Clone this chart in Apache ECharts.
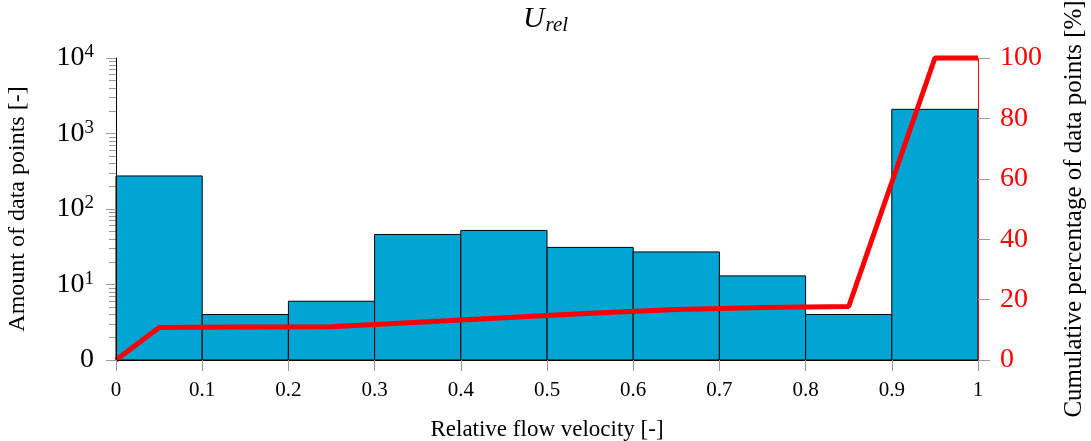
<!DOCTYPE html>
<html>
<head>
<meta charset="utf-8">
<script src="https://cdn.jsdelivr.net/npm/echarts@6/dist/echarts.min.js"></script>
<style>html,body{margin:0;padding:0;background:#fff}#c{width:1091px;height:441px}</style>
</head>
<body>
<div id="c"></div>
<script>
// Histogram bins (left edges / right edges) and counts
const binStart = [0, 0.1, 0.2, 0.3, 0.4, 0.5, 0.6, 0.7, 0.8, 0.9];
const binEnd   = [0.1, 0.2, 0.3, 0.4, 0.5, 0.6, 0.7, 0.8, 0.9, 1.0];
const counts   = [274, 4, 6, 46, 52, 31, 27, 13, 4, 2090];
// Cumulative percentage line
const cumX = [0, 0.05, 0.15, 0.25, 0.35, 0.45, 0.55, 0.65, 0.75, 0.85, 0.95, 1.0];
const cumY = [0, 10.8, 10.9, 11.0, 12.5, 14.0, 15.5, 16.7, 17.4, 17.7, 100, 100];
// Tick labels / positions
const xTickLabels = ['0', '0.1', '0.2', '0.3', '0.4', '0.5', '0.6', '0.7', '0.8', '0.9', '1'];
const logMajor = [1, 10, 100, 1000, 10000];
const logMinor = [2,3,4,5,6,7,8,9,20,30,40,50,60,70,80,90,200,300,400,500,600,700,800,900,2000,3000,4000,5000,6000,7000,8000,9000];
const rightTicks = [0, 20, 40, 60, 80, 100];

const SERIF = '"Liberation Serif", "DejaVu Serif", serif';
const TICKGRAY = '#9a9a9a';

const chart = echarts.init(document.getElementById('c'));
const barData = binStart.map((s, i) => [s, binEnd[i], counts[i]]);
const lineData = cumX.map((x, i) => [x, cumY[i]]);

chart.setOption({
  animation: false,
  backgroundColor: '#fff',
  title: {
    text: '{u|U}{s|rel}',
    left: 'center',
    top: -2,
    textStyle: {
      fontWeight: 'normal',
      rich: {
        u: { fontFamily: SERIF, fontStyle: 'italic', fontWeight: 'normal', fontSize: 30, color: '#000', lineHeight: 32 },
        s: { fontFamily: SERIF, fontStyle: 'italic', fontWeight: 'normal', fontSize: 21, color: '#000', verticalAlign: 'bottom', padding: [12, 0, 0, 1] }
      }
    }
  },
  grid: { left: 116, right: 113, top: 58, bottom: 81, containLabel: false, outerBoundsMode: 'none' },
  xAxis: {
    type: 'value', min: 0, max: 1, interval: 0.1,
    name: 'Relative flow velocity [-]',
    nameLocation: 'middle', nameGap: 58,
    nameTextStyle: { fontFamily: SERIF, fontSize: 23, color: '#000' },
    axisLine: { show: true, onZero: false, lineStyle: { color: '#000', width: 1 } },
    axisTick: { show: true, length: 11, lineStyle: { color: TICKGRAY } },
    axisLabel: {
      margin: 20, fontFamily: SERIF, fontSize: 21, color: '#000',
      formatter: v => xTickLabels[Math.round(v * 10)]
    },
    splitLine: { show: false },
    z: 10
  },
  yAxis: [
    {
      type: 'log', logBase: 10, min: 1, max: 10000, position: 'left',
      name: 'Amount of data points [-]',
      nameLocation: 'middle', nameGap: 86, nameRotate: 90,
      nameTextStyle: { fontFamily: SERIF, fontSize: 24, color: '#000' },
      axisLine: { show: true, lineStyle: { color: '#000', width: 1 } },
      axisTick: { show: true, length: 10, lineStyle: { color: TICKGRAY }, customValues: logMajor },
      axisLabel: {
        margin: 22, customValues: logMajor,
        formatter: v => v === 1 ? '{b|0}' : '{b|10}{s|' + Math.round(Math.log10(v)) + '}',
        rich: {
          b: { fontFamily: SERIF, fontSize: 28, color: '#000', lineHeight: 30 },
          s: { fontFamily: SERIF, fontSize: 19, color: '#000', verticalAlign: 'top', lineHeight: 18 }
        }
      },
      splitLine: { show: false },
      z: 10
    },
    {
      type: 'value', min: 0, max: 100, interval: 20, position: 'right',
      name: 'Cumulative percentage of data points [%]',
      nameLocation: 'middle', nameGap: 84, nameRotate: 90,
      nameTextStyle: { fontFamily: SERIF, fontSize: 25, color: '#000' },
      axisLine: { show: true, lineStyle: { color: '#ff0000', width: 1 } },
      axisTick: { show: true, length: 12, lineStyle: { color: TICKGRAY } },
      axisLabel: {
        margin: 22, fontFamily: SERIF, fontSize: 28, color: '#ff0000',
        formatter: v => rightTicks.indexOf(v) >= 0 ? String(v) : ''
      },
      splitLine: { show: false },
      z: 10
    },
    {
      type: 'log', logBase: 10, min: 1, max: 10000, position: 'left',
      axisLine: { show: false },
      axisTick: { show: true, length: 7, lineStyle: { color: TICKGRAY }, customValues: logMinor },
      axisLabel: { show: false },
      splitLine: { show: false }
    }
  ],
  series: [
    {
      type: 'custom',
      yAxisIndex: 0,
      data: barData,
      encode: { x: [0, 1], y: 2 },
      renderItem: (params, api) => {
        const p0 = api.coord([api.value(0), api.value(2)]);
        const p1 = api.coord([api.value(1), 1]);
        return {
          type: 'rect',
          shape: { x: p0[0], y: p0[1], width: p1[0] - p0[0], height: p1[1] - p0[1] },
          style: { fill: '#00a5d4', stroke: '#000', lineWidth: 1 }
        };
      },
      z: 1
    },
    {
      type: 'line',
      yAxisIndex: 1,
      data: lineData,
      symbol: 'none',
      clip: false,
      lineStyle: { color: '#ff0000', width: 5 },
      z: 5
    }
  ]
});
</script>
</body>
</html>
